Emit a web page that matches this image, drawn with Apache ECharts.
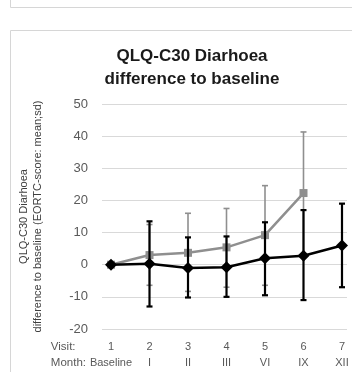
<!DOCTYPE html>
<html><head><meta charset="utf-8">
<script src="https://cdn.jsdelivr.net/npm/echarts@6/dist/echarts.min.js"></script>
<style>html,body{margin:0;padding:0;background:#fff}#c{width:352px;height:372px}</style>
</head><body><div id="c"></div>
<script>
var visits = [1, 2, 3, 4, 5, 6, 7];
var months = ['Baseline', 'I', 'II', 'III', 'VI', 'IX', 'XII'];
var yTicks = [-20, -10, 0, 10, 20, 30, 40, 50];
// black series (diamond)
var blackMean = [0, 0.3, -1.0, -0.8, 2.0, 2.8, 6.0];
var blackLow  = [0, -13, -10.2, -10, -9.5, -11, -7];
var blackHigh = [0, 13.5, 8.5, 8.8, 13.2, 17, 19];
// grey series (square)
var greyMean = [0, 3.0, 3.7, 5.4, 9.2, 22.3];
var greyLow  = [0, -6.4, -8.3, -7, -6.4, 3];
var greyHigh = [0, 12.5, 16, 17.5, 24.6, 41.3];

function pts(m){ return m.map(function(v,i){ return [visits[i], v]; }); }
function errs(lo,hi){ return lo.map(function(v,i){ return [visits[i], v, hi[i]]; }); }
function errRender(color, w, cap){
  return function(params, api){
    var x = api.value(0);
    var a = api.coord([x, api.value(1)]);
    var b = api.coord([x, api.value(2)]);
    if (Math.abs(a[1]-b[1]) < 0.5) return {type:'group', children:[]};
    var st = {stroke: color, lineWidth: w};
    return {type:'group', children:[
      {type:'line', shape:{x1:a[0], y1:a[1], x2:b[0], y2:b[1]}, style:st},
      {type:'line', shape:{x1:a[0]-cap, y1:a[1], x2:a[0]+cap, y2:a[1]}, style:st},
      {type:'line', shape:{x1:b[0]-cap, y1:b[1], x2:b[0]+cap, y2:b[1]}, style:st}
    ]};
  };
}
var chart = echarts.init(document.getElementById('c'), null, {renderer:'canvas'});
var FONT = 'Liberation Sans';
chart.setOption({
  animation: false,
  textStyle: {fontFamily: FONT},
  title: {
    text: 'QLQ-C30 Diarhoea\ndifference to baseline',
    left: 187, top: 40, textAlign: 'center',
    textStyle: {fontFamily: FONT, fontSize: 17, fontWeight: 'bold', color: '#1a1a1a', lineHeight: 23}
  },
  graphic: [
    {type:'rect', shape:{x:10.5, y:-10, width:400, height:17.5}, style:{fill:'none', stroke:'#d6d6d6', lineWidth:1}},
    {type:'rect', shape:{x:10.5, y:30.5, width:400, height:400}, style:{fill:'none', stroke:'#d6d6d6', lineWidth:1}},
    {type:'text', right: 352-86, top: 339, style:{text:'Visit:\nMonth:', align:'right', fontFamily: FONT, fontSize: 11.5, lineHeight: 16, fill:'#595959'}}
  ],
  grid: {left: 102, right: 5, top: 104, bottom: 43},
  xAxis: {
    type: 'value', min: 0.766, max: 7.13,
    splitLine: {show: false}, axisLine: {show: false}, axisTick: {show: false},
    axisLabel: {
      customValues: visits, margin: 10, lineHeight: 16,
      fontFamily: FONT, fontSize: 11, color: '#595959',
      formatter: function(v){ var i = visits.indexOf(v); return visits[i] + '\n' + months[i]; }
    }
  },
  yAxis: {
    type: 'value', min: yTicks[0], max: yTicks[yTicks.length-1], interval: 10,
    name: 'QLQ-C30 Diarhoea\ndifference to baseline (EORTC-score: mean;sd)',
    nameLocation: 'middle', nameGap: 57, nameRotate: 90,
    nameTextStyle: {fontFamily: FONT, fontSize: 11, lineHeight: 14, color: '#404040'},
    axisLine: {show: false}, axisTick: {show: false},
    axisLabel: {margin: 14, fontFamily: FONT, fontSize: 13, color: '#595959'},
    splitLine: {lineStyle: {color: '#d9d9d9', width: 1}}
  },
  series: [
    {type:'custom', data: errs(greyLow, greyHigh), renderItem: errRender('#8f8f8f', 1.6, 3), z: 2},
    {type:'line', data: pts(greyMean), symbol:'rect', symbolSize: 8,
     lineStyle:{color:'#8f8f8f', width:2.5}, itemStyle:{color:'#8f8f8f'}, z: 3},
    {type:'custom', data: errs(blackLow, blackHigh), renderItem: errRender('#000', 2.2, 3), z: 4},
    {type:'line', data: pts(blackMean), symbol:'diamond', symbolSize: 12,
     lineStyle:{color:'#000', width:2.5}, itemStyle:{color:'#000'}, z: 5}
  ]
});
</script>
</body></html>
